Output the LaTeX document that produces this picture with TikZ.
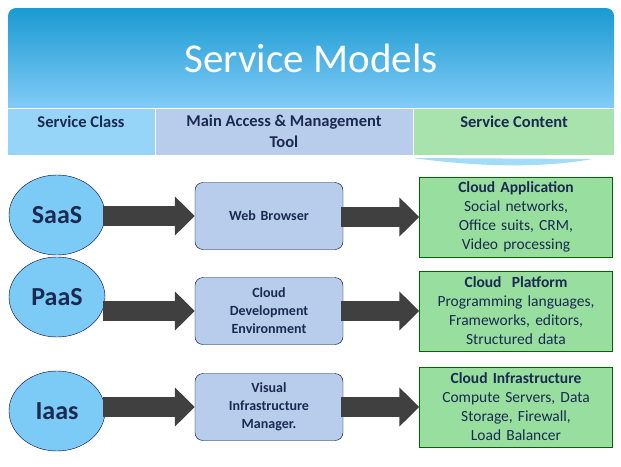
\documentclass[tikz,border=0pt]{standalone}
\usepackage{fontspec}
\setmainfont{Carlito}
\usetikzlibrary{arrows.meta,shapes.geometric}
\definecolor{navy}{HTML}{1A2A50}
\definecolor{skyfill}{HTML}{7CCBF6}
\definecolor{toolfill}{HTML}{B7CDEB}
\definecolor{greenfill}{HTML}{98DE9F}
\hyphenpenalty=10000
\begin{document}
\begin{tikzpicture}[x=1pt,y=-1pt,
    cls/.style={ellipse,draw=black!70!blue,fill=skyfill,minimum width=96pt,minimum height=80pt,font=\fontsize{26}{28}\selectfont\bfseries,text=navy},
    tool/.style={rounded corners=8pt,draw=black!70!blue,fill=toolfill,minimum width=148pt,minimum height=67pt,text width=130pt,align=center,font=\fontsize{14}{18}\selectfont\bfseries,text=navy},
    content/.style={draw=black!60!green,fill=greenfill,minimum width=193pt,minimum height=80pt,text width=180pt,align=center,font=\fontsize{15.5}{19}\selectfont,text=navy},
    blockarrow/.style={draw=black,line width=20pt,-{Triangle[length=20pt,width=38pt]},black!75}]
\useasboundingbox (0,0) rectangle (621,466);
\fill[white] (0,0) rectangle (621,466);
% header
\shade[top color=blue!30!cyan!80!black!90,bottom color=cyan!60!blue!40,rounded corners=8pt] (8,8) rectangle (614,130);
\fill[skyfill!80] (8,108) rectangle (155,155);
\fill[toolfill] (155,108) rectangle (413,155);
\fill[greenfill!85] (413,108) rectangle (614,155);
\draw[white,thick] (8,108) -- (614,108) (155,108) -- (155,155) (413,108) -- (413,155);
\fill[skyfill!70] (413,158) .. controls (500,170) and (560,165) .. (592,159) -- cycle;
\node (title) at (311,58) [text=white,font=\fontsize{41}{44}\selectfont] {Service Models};
\node (hclass) at (81,122) [text=navy,font=\fontsize{16.5}{20}\selectfont\bfseries] {Service Class};
\node (htool) at (284,131) [text=navy,align=center,font=\fontsize{16.5}{21}\selectfont\bfseries] {Main Access \& Management\\Tool};
\node (hcontent) at (514,122) [text=navy,font=\fontsize{16.5}{20}\selectfont\bfseries] {Service Content};
% rows
\node (saas) at (57,215) [cls] {SaaS};
\node (paas) at (57,297) [cls] {PaaS};
\node (iaas) at (57,411) [cls] {Iaas};
\node (browser) at (269,216) [tool] {Web Browser};
\node (devenv) at (269,311) [tool] {Cloud\\Development\\Environment};
\node (vim) at (269,407) [tool] {Visual\\Infrastructure\\Manager.};
\node (app) at (516,217) [content] {\textbf{Cloud Application}\\Social networks, Office suits, CRM, Video processing};
\node (platform) at (516,311) [content] {\textbf{Cloud\ \ Platform}\\Programming languages, Frameworks, editors, Structured data};
\node (infra) at (516,407) [content] {\textbf{Cloud Infrastructure}\\Compute Servers, Data Storage, Firewall, Load Balancer};
\foreach \a/\b in {saas/browser,browser/app,paas/devenv,devenv/platform,iaas/vim,vim/infra}
  \draw[blockarrow] ([xshift=-2pt]\a.east |- \b.west) -- (\b.west);
\end{tikzpicture}
\end{document}
